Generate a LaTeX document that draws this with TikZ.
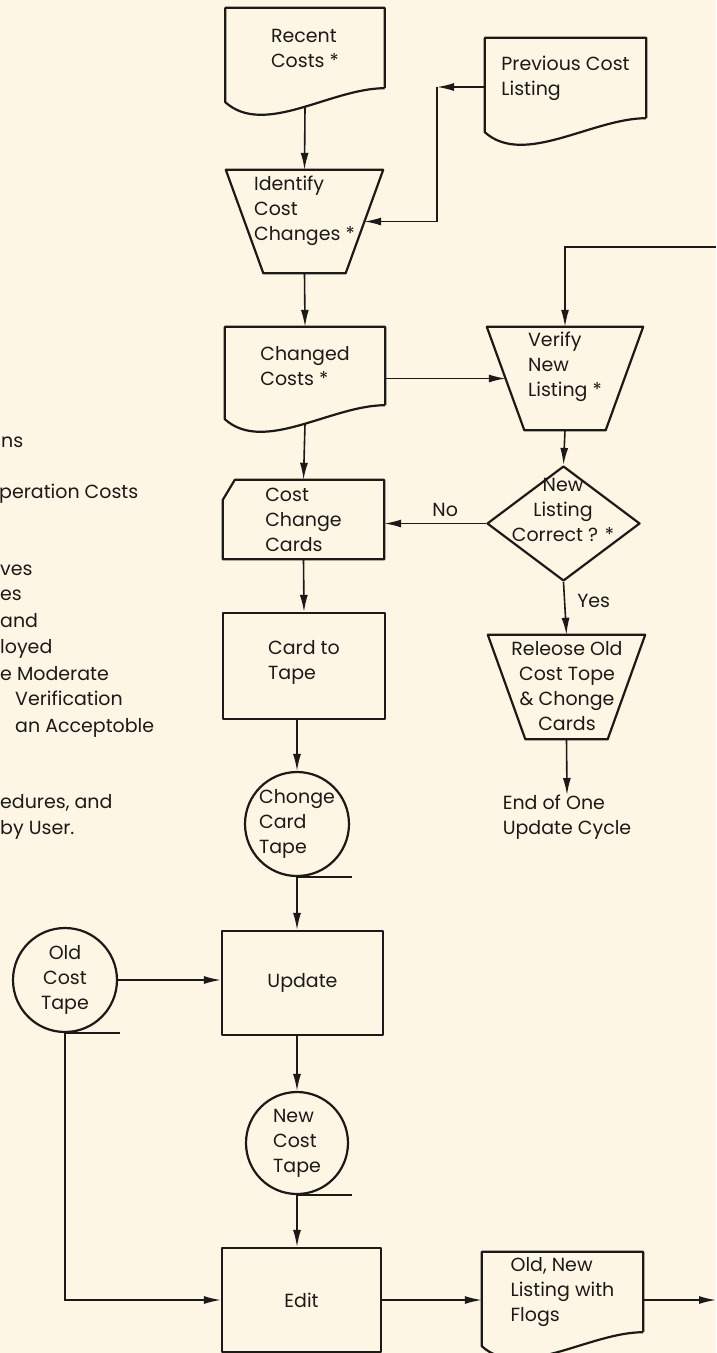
\documentclass[tikz,border=0pt]{standalone}
\usepackage{fontspec}
\setmainfont{Poppins}
\usepackage{tikz}
\usetikzlibrary{shapes.geometric,arrows.meta,calc}
\definecolor{paper}{RGB}{253,246,228}
\definecolor{ink}{RGB}{28,26,24}
\pgfkeys{tikz/boxline/.style={draw=ink, line width=2.2pt, line join=round}}
\pgfkeys{tikz/flow/.style={draw=ink, line width=1.6pt, -{Latex[length=17pt,width=8pt]}}}
\pgfkeys{tikz/txt/.style={text=ink, inner sep=0pt}}
\pgfkeys{tikz/docnode/.style={rectangle, inner sep=0pt, minimum width=159, minimum height=80, align=left}}
\pgfkeys{tikz/cardnode/.style={rectangle, inner sep=0pt, minimum width=161, minimum height=79, align=left}}
\pgfkeys{tikz/boxnode/.style={rectangle, boxline, inner sep=0pt, minimum width=161, minimum height=104, align=left}}
\pgfkeys{tikz/trapnode/.style={rectangle, inner sep=0pt, minimum width=157, minimum height=103}}
\pgfkeys{tikz/tapenode/.style={circle, boxline, minimum size=104, inner sep=0pt, align=left}}
% document symbol with wavy bottom edge
\newcommand{\docframe}[1]{\draw[boxline] (#1.south east) -- (#1.north east) -- (#1.north west) -- ($(#1.south west)+(0,14)$) .. controls +(39,35) and +(-54,0) .. (#1.south east);}
% punched card with cut corner
\newcommand{\cardframe}[1]{\draw[boxline] ($(#1.north west)+(12,0)$) -- (#1.north east) -- (#1.south east) -- (#1.south west) -- ($(#1.north west)+(0,20)$) -- cycle;}
% manual operation, wide side up
\newcommand{\trapframe}[1]{\draw[boxline] (#1.north west) -- (#1.north east) -- ($(#1.south east)+(-37.5,0)$) -- ($(#1.south west)+(37.5,0)$) -- cycle;}
% tail of a tape reel
\newcommand{\tapetail}[1]{\draw[boxline] (#1.south) -- ++(55,0);}
\begin{document}
\begin{tikzpicture}[x=1pt,y=-1pt,font=\fontsize{19}{25}\selectfont,text=ink]
\fill[paper] (0,0) rectangle (716,1353);
\useasboundingbox (0,0) rectangle (716,1353);

% left column text, cut off at the page edge
\foreach \t/\x/\y [count=\i] in {ns/1/447, peration Costs/-1/498, ves/0/575, es/0/600, and/0/627,
                                 loyed/0/653, e Moderate/0/680, Verification/15/705, an Acceptoble/15/732,
                                 {edures, and}/0/808, by User./0/834}
    \node[txt, anchor=base west] (frag\i) at (\x,\y) {\t};

% main column
\node[docnode] (recent) at (305,48) {Recent\\Costs *};
\docframe{recent}
\node[docnode, minimum width=161] (prev) at (565.5,78) {Previous Cost\\Listing};
\docframe{prev}
\node[trapnode] (ident) at (304.5,221.5) {};
\trapframe{ident}
\node[txt, align=left] (identtxt) at ($(ident)+(0,-11)$) {Identify\\Cost\\Changes *};
\node[docnode, minimum width=160, minimum height=78] (changed) at (305,366) {Changed\\Costs *};
\docframe{changed}
\node[cardnode] (cards) at (303.5,519.5) {Cost\\Change\\Cards};
\cardframe{cards}
\node[boxnode, minimum width=162, minimum height=106] (cardtape) at (304,666) {Card to\\Tape\\[-12pt]\mbox{}};
\node[tapenode] (chgtape) at (297,824) {Chonge\\Card\\Tape};
\tapetail{chgtape}
\node[tapenode, align=center] (oldtape) at (65,980) {Old\\Cost\\Tape};
\tapetail{oldtape}
\node[boxnode, align=center] (update) at (302.5,983) {Update};
\node[tapenode, minimum size=102] (newtape) at (297,1143) {New\\Cost\\Tape};
\tapetail{newtape}
\node[boxnode, minimum width=159, align=center] (edit) at (301.5,1300) {Edit};
\node[docnode, minimum width=161] (listing) at (562.5,1292) {Old, New\\Listing with\\Flogs};
\docframe{listing}

% right column
\node[trapnode, minimum width=156] (verify) at (565,378.5) {};
\trapframe{verify}
\node[txt, align=left] (verifytxt) at ($(verify)+(0,-12)$) {Verify\\New\\Listing *};
\node[diamond, boxline, minimum width=153, minimum height=115, inner sep=2pt] (check) at (563.5,523.5) {\strut};
\node[txt, align=center] (checktxt) at (563,510) {New\\Listing\\Correct ? *};
\node[trapnode, minimum height=104] (release) at (566.5,687) {};
\trapframe{release}
\node[txt, align=center] (releasetxt) at (567,686) {Releose Old\\Cost Tope\\\& Chonge\\Cards};
\node[txt, anchor=north, align=left] (endnote) at (567,795) {End of One\\Update Cycle};

\coordinate (prevbend) at (437,87);
\coordinate (enterpt) at (716,247);
\coordinate (exitpt) at (716,1300);

\draw[flow] ([yshift=-19pt]recent.south) -- (ident.north);
\draw[flow] (prev.west |- prevbend) -- (prevbend);
\draw[flow] (prevbend) |- ($(ident.east)+(-19,0)$);
\draw[flow] (ident.south) -- (changed.north);
\draw[flow] (changed.east |- verify) -- ($(verify.west)+(19,0)$);
\draw[flow] ([yshift=-19pt]changed.south) -- (cards.north);
\draw[flow] (cards.south) -- (cardtape.north);
\draw[flow] (chgtape.north |- cardtape.south) -- (chgtape.north);
\draw[flow] (chgtape.south) -- (chgtape.south |- update.north);
\draw[flow] (oldtape.east) -- (oldtape.east -| update.west);
\draw[flow] (newtape.north |- update.south) -- (newtape.north);
\draw[flow] (newtape.south) -- (newtape.south |- edit.north);
\draw[flow] (oldtape.south) |- (edit.west);
\draw[flow] (edit.east) -- (edit.east -| listing.west);
\draw[flow] (listing.east |- edit.east) -- (exitpt);

\draw[flow] (enterpt) -| (verify.north);
\draw[flow] (verify.south) -- (check.north);
\draw[flow] (check.west) -- (check.west -| cards.east) node[txt, pos=0.4, above=6pt] (nolbl) {No};
\draw[flow] (check.south) -- (release.north) node[txt, pos=0.35, right=12pt] (yeslbl) {Yes};
\draw[flow] (release.south) -- (endnote.north);
\end{tikzpicture}
\end{document}
